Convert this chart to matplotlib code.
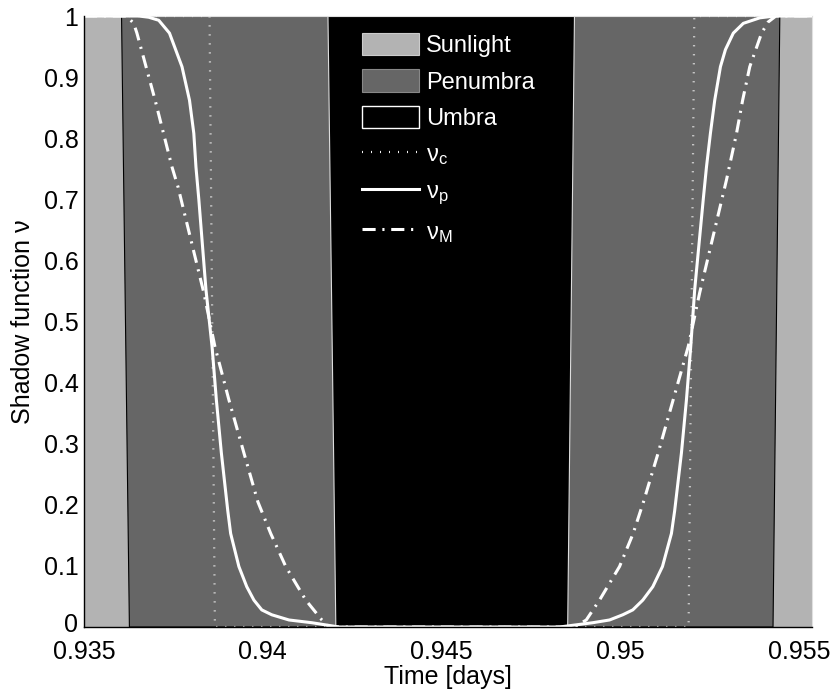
import numpy as np
import matplotlib
matplotlib.use("Agg")
import matplotlib.pyplot as plt
import matplotlib.transforms as mtransforms
from matplotlib.patches import Patch
from matplotlib.lines import Line2D

plt.rcParams['font.family'] = ['Liberation Sans', 'DejaVu Sans']
plt.rcParams['mathtext.fontset'] = 'custom'
plt.rcParams['mathtext.rm'] = 'Liberation Sans'
plt.rcParams['mathtext.it'] = 'Liberation Sans'

# region boundaries (time at nu=1 / nu=0, the fills are slanted from coarse sampling)
penumbra_x = [0.93605, 0.95445, 0.95426, 0.93627]
penumbra_y = [1, 1, 0, 0]
umbra_x = [0.94182, 0.94871, 0.94852, 0.94204]
umbra_y = [1, 1, 0, 0]

# conical shadow function (step)
t_c = [0.935, 0.93851, 0.93866, 0.95190, 0.95206, 0.95535]
nu_c = [1, 1, 0, 0, 1, 1]

# penumbral shadow function
t_p = [0.935, 0.93653, 0.93681, 0.93709, 0.93739, 0.93774, 0.93795, 0.93807,
       0.93813, 0.93821, 0.93841, 0.93858, 0.93870, 0.93884, 0.93902, 0.93910,
       0.93933, 0.93955, 0.93975, 0.93997, 0.94025, 0.94073, 0.94137, 0.94213,
       0.94829, 0.94922, 0.94969, 0.95006, 0.95034, 0.95062, 0.95090, 0.95117,
       0.95142, 0.95151, 0.95170, 0.95184, 0.95196, 0.95207, 0.95231, 0.95240,
       0.95251, 0.95263, 0.95279, 0.95293, 0.95315, 0.95343, 0.95389, 0.95431,
       0.95535]
nu_p = [1.0, 1.0, 0.998, 0.993, 0.972, 0.917, 0.862, 0.808,
        0.753, 0.70, 0.552, 0.459, 0.372, 0.285, 0.19, 0.153,
        0.099, 0.066, 0.044, 0.028, 0.020, 0.0115, 0.007, 0.0,
        0.0, 0.007, 0.0115, 0.020, 0.028, 0.044, 0.066, 0.099,
        0.153, 0.19, 0.285, 0.372, 0.459, 0.552, 0.70, 0.753,
        0.808, 0.862, 0.917, 0.945, 0.972, 0.988, 0.997, 1.0,
        1.0]

# mean shadow function
t_M = [0.935, 0.93619, 0.93639, 0.93648, 0.93699, 0.93746, 0.93763, 0.93835,
       0.93866, 0.93905, 0.93947, 0.93986, 0.94022, 0.94064, 0.94120, 0.94165,
       0.94185, 0.94871, 0.94904, 0.94941, 0.94997, 0.95035, 0.95064, 0.95105,
       0.95147, 0.95189, 0.95221, 0.95296, 0.95324, 0.95341, 0.95361, 0.95394,
       0.95412, 0.95434, 0.95535]
nu_M = [1.0, 1.0, 0.988, 0.972, 0.862, 0.753, 0.72, 0.547,
        0.459, 0.372, 0.285, 0.205, 0.153, 0.099, 0.044, 0.0115,
        0.0, 0.0, 0.0115, 0.044, 0.099, 0.153, 0.205, 0.285,
        0.372, 0.459, 0.547, 0.732, 0.808, 0.862, 0.917, 0.972,
        0.99, 1.0, 1.0]

xticks = [0.935, 0.94, 0.945, 0.95, 0.955]
xticklabels = ['0.935', '0.94', '0.945', '0.95', '0.955']
yticks = np.round(np.arange(0, 1.01, 0.1), 1)
yticklabels = ['0'] + [f'{v:g}' for v in yticks[1:-1]] + ['1']

sun_col = '#b3b3b3'
pen_col = '#666666'
fs = 18

fig = plt.figure(figsize=(8.38, 6.9), dpi=100)
ax = fig.add_axes([0.1002, 0.0913, 0.8688, 0.8855])

xlim = (0.935, 0.95535)
ax.fill_between(xlim, 0, 1, color=sun_col, lw=0, zorder=1)
ax.fill(penumbra_x, penumbra_y, facecolor=pen_col, edgecolor='black', lw=0.8, zorder=1.1)
ax.fill(umbra_x, umbra_y, facecolor='black', edgecolor='#dddddd', lw=0.8, zorder=1.2)

ax.plot(t_c, nu_c, color='#eeeeee', lw=1.6, linestyle=(0, (0.45, 3.6)), zorder=3)
ax.plot(t_p, nu_p, color='white', lw=2.2, zorder=3.1)
ax.plot(t_M, nu_M, color='white', lw=2.2, linestyle=(0, (4.3, 2.2, 0.7, 2.2)), zorder=3.2)

ax.set_xlim(*xlim)
ax.set_ylim(0, 1)
ax.set_xticks(xticks)
ax.set_xticklabels(xticklabels)
ax.set_yticks(yticks)
ax.set_yticklabels(yticklabels)
ax.tick_params(axis='both', length=0, labelsize=fs)
ax.tick_params(axis='x', pad=9)
ax.tick_params(axis='y', pad=4)
ax.set_xlabel('Time [days]', fontsize=fs, labelpad=1)
ax.set_ylabel('Shadow function ν', fontsize=fs, labelpad=6)
# nudge the bottom y label up a little, as in the original
lab0 = ax.get_yticklabels()[0]
lab0.set_transform(lab0.get_transform() +
                   mtransforms.ScaledTranslation(0, 3 / 72, fig.dpi_scale_trans))

for s in ['left', 'bottom']:
    ax.spines[s].set_color('black')
    ax.spines[s].set_linewidth(1.0)
    ax.spines[s].set_zorder(4)
ax.spines['top'].set_color('#e0e0e0')
ax.spines['right'].set_color('#e0e0e0')

handles = [
    Patch(facecolor=sun_col, edgecolor='#cccccc', lw=0.8),
    Patch(facecolor=pen_col, edgecolor='#888888', lw=0.8),
    Patch(facecolor='black', edgecolor='white', lw=1.0),
    Line2D([], [], color='#eeeeee', lw=1.6, linestyle=(0, (0.45, 3.6))),
    Line2D([], [], color='white', lw=2.2),
    Line2D([], [], color='white', lw=2.2, linestyle=(0, (4.3, 2.2, 0.7, 2.2))),
]
labels = ['Sunlight', 'Penumbra', 'Umbra',
          r'$\mathrm{\nu_c}$', r'$\mathrm{\nu_p}$', r'$\mathrm{\nu_M}$']
leg = ax.legend(handles, labels, loc='upper left', bbox_to_anchor=(0.382, 0.972),
                frameon=False, fontsize=17, borderpad=0, borderaxespad=0,
                handlelength=2.4, handleheight=1.06, handletextpad=0.3,
                labelspacing=0.52)
for txt in leg.get_texts():
    txt.set_color('white')
leg.set_zorder(5)

fig.savefig('out.png', dpi=100)
